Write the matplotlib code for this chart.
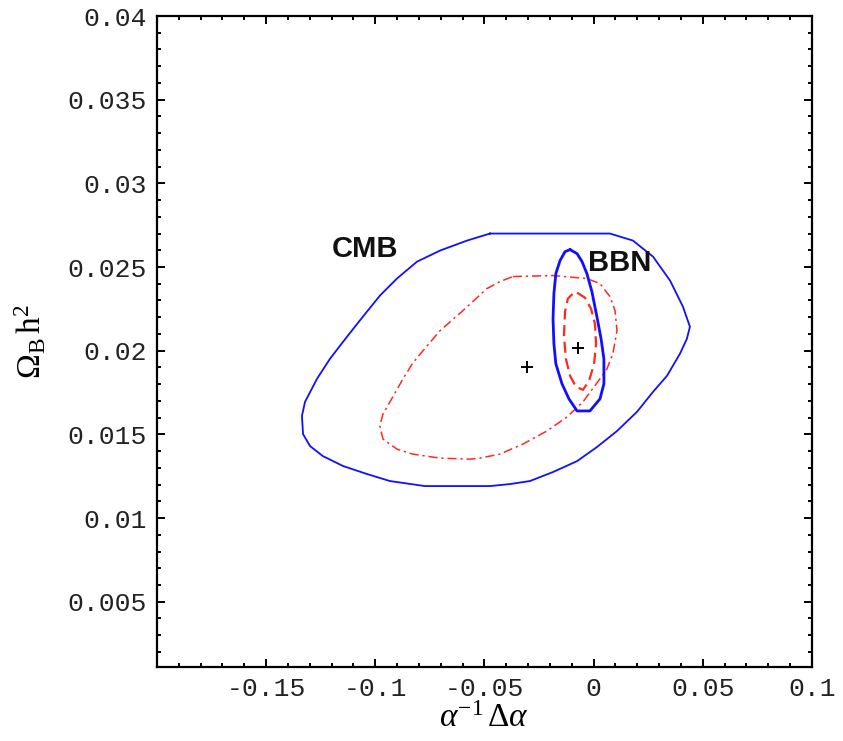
import matplotlib
matplotlib.use("Agg")
import matplotlib.pyplot as plt
from matplotlib.ticker import MultipleLocator, FixedLocator

plt.rcParams['mathtext.fontset'] = 'custom'
plt.rcParams['mathtext.rm'] = 'Liberation Serif'
plt.rcParams['mathtext.it'] = 'Liberation Serif:italic'

# CMB contour (outer, blue solid)
cmb_x = [-0.0475, 0.0075, 0.0180, 0.0272, 0.0350, 0.0409, 0.0441, 0.0427, 0.0395, 0.0336,
         0.0272, 0.0198, 0.0107, 0.0015, -0.0076, -0.0186, -0.0292, -0.0383, -0.0475, -0.0773,
         -0.0933, -0.1038, -0.1148, -0.1240, -0.1299, -0.1331, -0.1336, -0.1322, -0.1267, -0.1208,
         -0.1130, -0.1057, -0.0979, -0.0901, -0.0809, -0.0704, -0.0580, -0.0475]
cmb_y = [0.02700, 0.02700, 0.02658, 0.02562, 0.02419, 0.02263, 0.02143, 0.02071, 0.01981, 0.01850,
         0.01754, 0.01634, 0.01520, 0.01424, 0.01340, 0.01275, 0.01221, 0.01203, 0.01191, 0.01191,
         0.01221, 0.01263, 0.01311, 0.01370, 0.01430, 0.01502, 0.01610, 0.01694, 0.01832, 0.01951,
         0.02083, 0.02203, 0.02329, 0.02431, 0.02532, 0.02598, 0.02658, 0.02700]

# CMB contour (red dash-dot)
cmb2_x = [-0.0370, -0.0186, -0.0031, 0.0029, 0.0075, 0.0098, 0.0107, 0.0088, 0.0061, 0.0029,
          -0.0049, -0.0122, -0.0214, -0.0324, -0.0429, -0.0521, -0.0566, -0.0704, -0.0828, -0.0901,
          -0.0965, -0.0979, -0.0965, -0.0933, -0.0873, -0.0828, -0.0782, -0.0704, -0.0599, -0.0489,
          -0.0429, -0.0370]
cmb2_y = [0.02443, 0.02449, 0.02431, 0.02401, 0.02323, 0.02239, 0.02119, 0.01981, 0.01892, 0.01832,
          0.01694, 0.01604, 0.01520, 0.01442, 0.01382, 0.01358, 0.01352, 0.01358, 0.01382, 0.01412,
          0.01472, 0.01550, 0.01622, 0.01694, 0.01832, 0.01927, 0.01999, 0.02119, 0.02239, 0.02371,
          0.02413, 0.02443]

# BBN contour (blue, thick)
bbn_x = [-0.0108, -0.0076, -0.0053, -0.0031, -0.0008, 0.0015, 0.0034, 0.0047, 0.0047, 0.0029,
         -0.0017, -0.0076, -0.0113, -0.0145, -0.0173, -0.0182, -0.0186, -0.0182, -0.0173, -0.0154,
         -0.0131, -0.0108]
bbn_y = [0.02604, 0.02580, 0.02532, 0.02461, 0.02353, 0.02203, 0.02071, 0.01951, 0.01802, 0.01712,
         0.01640, 0.01640, 0.01712, 0.01802, 0.01921, 0.02041, 0.02191, 0.02341, 0.02461, 0.02538,
         0.02592, 0.02604]

# BBN contour (red dashed)
bbn2_x = [-0.0076, -0.0040, -0.0012, 0.0006, 0.0011, 0.0002, -0.0021, -0.0049, -0.0081, -0.0108,
          -0.0127, -0.0136, -0.0131, -0.0118, -0.0095, -0.0076]
bbn2_y = [0.02347, 0.02317, 0.02251, 0.02161, 0.02041, 0.01921, 0.01820, 0.01766, 0.01784, 0.01850,
          0.01951, 0.02089, 0.02233, 0.02311, 0.02341, 0.02347]

# best fit points
best_x = [-0.0305, -0.0072]
best_y = [0.01904, 0.02018]

xticks = [-0.15, -0.1, -0.05, 0, 0.05, 0.1]
xlabels = ['-0.15', '-0.1', '-0.05', '0', '0.05', '0.1']
yticks = [0.005, 0.01, 0.015, 0.02, 0.025, 0.03, 0.035, 0.04]
ylabels = ['0.005', '0.01', '0.015', '0.02', '0.025', '0.03', '0.035', '0.04']

fig = plt.figure(figsize=(8.43, 7.41), dpi=100)
ax = fig.add_axes([0.1862, 0.0999, 0.777, 0.8785])

ax.plot(cmb_x, cmb_y, color='#1010ff', lw=1.3, solid_joinstyle='round')
ax.plot(cmb2_x, cmb2_y, color='#ff2a1a', lw=1.1, dashes=(6, 2.5, 1.5, 2.5))
ax.plot(bbn_x, bbn_y, color='#1010ff', lw=2.0, solid_joinstyle='round')
ax.plot(bbn2_x, bbn2_y, color='#ff2a1a', lw=1.6, dashes=(5, 2.5))
ax.plot(best_x, best_y, '+', color='black', ms=9, mew=1.4)

ax.text(-0.1047, 0.0261, 'CMB', fontsize=21, fontweight='bold', family='Liberation Sans',
        ha='center', va='center', color='#111111')
ax.text(0.0121, 0.02527, 'BBN', fontsize=21, fontweight='bold', family='Liberation Sans',
        ha='center', va='center', color='#111111')

ax.set_xlim(-0.2, 0.1)
ax.set_ylim(0.0011, 0.04)
ax.xaxis.set_major_locator(FixedLocator(xticks))
ax.set_xticklabels(xlabels)
ax.xaxis.set_minor_locator(MultipleLocator(0.01))
ax.yaxis.set_major_locator(FixedLocator(yticks))
ax.set_yticklabels(ylabels)
ax.yaxis.set_minor_locator(MultipleLocator(0.001))

ax.tick_params(which='both', direction='in', top=True, right=True, width=1.4, color='black')
ax.tick_params(which='major', length=6, labelsize=19, pad=7)
ax.tick_params(which='minor', length=3)
for lab in ax.get_xticklabels() + ax.get_yticklabels():
    lab.set_family('Liberation Mono')
    lab.set_color('#222222')
for s in ax.spines.values():
    s.set_linewidth(1.6)

ax.set_xlabel(r'$\alpha^{-1}\,\Delta\alpha$', fontsize=24, labelpad=0)
ax.set_ylabel(r'$\Omega_{\rm B}\,{\rm h}^2$', fontsize=24, labelpad=14)

fig.savefig('out.png', dpi=100)
